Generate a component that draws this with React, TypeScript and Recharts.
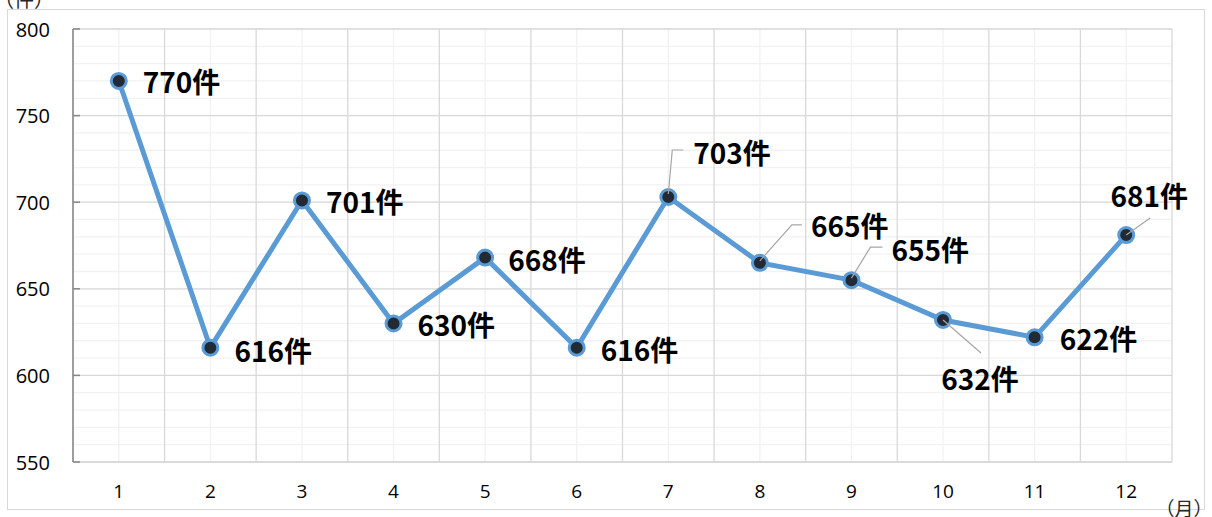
import React from "react";
import { LineChart, Line, XAxis, YAxis, CartesianGrid } from "recharts";

// monthly counts (件)
const months = ["1", "2", "3", "4", "5", "6", "7", "8", "9", "10", "11", "12"];
const counts = [770, 616, 701, 630, 668, 616, 703, 665, 655, 632, 622, 681];
const yTicks = [550, 600, 650, 700, 750, 800];
const minorTicks = [
  550, 560, 570, 580, 590, 600, 610, 620, 630, 640, 650, 660, 670,
  680, 690, 700, 710, 720, 730, 740, 750, 760, 770, 780, 790, 800,
];

const Y_MIN = 550;
const Y_MAX = 800;

const data = months.map((m, i) => ({ month: m, count: counts[i] }));

// label placement relative to each point (layout only)
type LabelPos = { dx: number; dy: number; anchor: "start" | "middle"; leader?: number[][] };
const labelPos: LabelPos[] = [
  { dx: 24, dy: 0, anchor: "start" },
  { dx: 24, dy: 2, anchor: "start" },
  { dx: 24, dy: 1, anchor: "start" },
  { dx: 24, dy: 1, anchor: "start" },
  { dx: 23, dy: 1, anchor: "start" },
  { dx: 24, dy: 1, anchor: "start" },
  { dx: 25, dy: -45, anchor: "start", leader: [[0, -3], [4, -47], [15, -47]] },
  { dx: 51, dy: -38, anchor: "start", leader: [[0, -2], [32, -38], [42, -38]] },
  { dx: 40, dy: -31, anchor: "start", leader: [[0, -2], [19, -33], [31, -33]] },
  { dx: 37, dy: 58, anchor: "middle", leader: [[0, 0], [38, 33]] },
  { dx: 25, dy: 1, anchor: "start" },
  { dx: 23, dy: -40, anchor: "middle", leader: [[0, 0], [24, -17]] },
];

const FONT = "'Open Sans', 'Noto Sans CJK JP', sans-serif";
const LABEL_FONT = "'Noto Sans CJK JP', sans-serif";

const renderLabel = (props: any) => {
  const { x, y, index, value } = props;
  const p = labelPos[index];
  if (!p || x == null || y == null) return null;
  return (
    <g key={`lbl-${index}`}>
      {p.leader && (
        <polyline
          points={p.leader.map(([lx, ly]) => `${x + lx},${y + ly}`).join(" ")}
          fill="none"
          stroke="#A6A6A6"
          strokeWidth={1.2}
        />
      )}
      <text
        x={x + p.dx}
        y={y + p.dy}
        textAnchor={p.anchor}
        dominantBaseline="central"
        fontFamily={LABEL_FONT}
        fontWeight="bold"
        fontSize={28}
        fill="#000"
      >
        {`${value}件`}
      </text>
    </g>
  );
};

const renderDot = (props: any) => {
  const { cx, cy, index } = props;
  return (
    <circle
      key={`dot-${index}`}
      cx={cx}
      cy={cy}
      r={7.5}
      fill="#222A35"
      stroke="#5B9BD5"
      strokeWidth={3}
    />
  );
};

const renderYTick = (props: any) => {
  const { x, y, payload, index } = props;
  return (
    <g key={`yt-${index}`}>
      <line x1={x} x2={x + 7} y1={y} y2={y} stroke="#868686" strokeWidth={1.5} />
      <text
        x={x - 23}
        y={y}
        textAnchor="end"
        dominantBaseline="central"
        fontFamily={FONT}
        fontSize={20}
        fill="#000"
      >
        {payload.value}
      </text>
    </g>
  );
};

const renderXTick = (props: any) => {
  const { x, y, payload, index } = props;
  return (
    <text
      key={`xt-${index}`}
      x={x}
      y={y + 29}
      textAnchor="middle"
      dominantBaseline="central"
      fontFamily={FONT}
      fontSize={19}
      fill="#000"
    >
      {payload.value}
    </text>
  );
};

const yPix = (offset: any, v: number) =>
  offset.top + ((Y_MAX - v) / (Y_MAX - Y_MIN)) * offset.height;

export default function App() {
  return (
    <div style={{ position: "absolute", left: 0, top: 0, width: 1212, height: 517, background: "#fff" }}>
      <div
        style={{
          position: "absolute",
          left: 7,
          top: 9,
          width: 1196,
          height: 499,
          border: "1px solid #D9D9D9",
        }}
      />
      <div style={{ position: "absolute", left: 0, top: 0 }}>
        <LineChart
          width={1212}
          height={517}
          data={data}
          margin={{ top: 29, right: 40, bottom: 0, left: 0 }}
        >
          <CartesianGrid
            stroke="#F2F2F2"
            strokeWidth={1.3}
            horizontalCoordinatesGenerator={({ offset }: any) =>
              minorTicks.map((v) => yPix(offset, v))
            }
            verticalCoordinatesGenerator={({ offset }: any) =>
              months.map((_, i) => offset.left + ((i + 0.5) * offset.width) / months.length)
            }
          />
          <CartesianGrid
            stroke="#D9D9D9"
            strokeWidth={1.3}
            horizontalCoordinatesGenerator={({ offset }: any) =>
              yTicks.map((v) => yPix(offset, v))
            }
            verticalCoordinatesGenerator={({ offset }: any) =>
              [0, ...months].map((_, i) => offset.left + (i * offset.width) / months.length)
            }
          />
          <XAxis
            dataKey="month"
            scale="band"
            height={55}
            tickSize={0}
            tickMargin={0}
            axisLine={{ stroke: "#D9D9D9", strokeWidth: 1.3 }}
            tickLine={false}
            tick={renderXTick}
            interval={0}
          />
          <YAxis
            width={73}
            domain={[Y_MIN, Y_MAX]}
            ticks={yTicks}
            tickSize={0}
            tickMargin={0}
            axisLine={{ stroke: "#868686", strokeWidth: 1.5 }}
            tickLine={false}
            tick={renderYTick}
            allowDataOverflow
          />
          <Line
            type="linear"
            dataKey="count"
            stroke="#5B9BD5"
            strokeWidth={5}
            dot={renderDot}
            activeDot={false}
            label={renderLabel}
            isAnimationActive={false}
          />
          <text x={24} y={-2} textAnchor="middle" dominantBaseline="central" fontFamily={LABEL_FONT} fontSize={20} fill="#262626">
            （件）
          </text>
          <text x={1184} y={507} textAnchor="middle" dominantBaseline="central" fontFamily={LABEL_FONT} fontSize={19} fill="#262626">
            （月）
          </text>
        </LineChart>
      </div>
    </div>
  );
}
